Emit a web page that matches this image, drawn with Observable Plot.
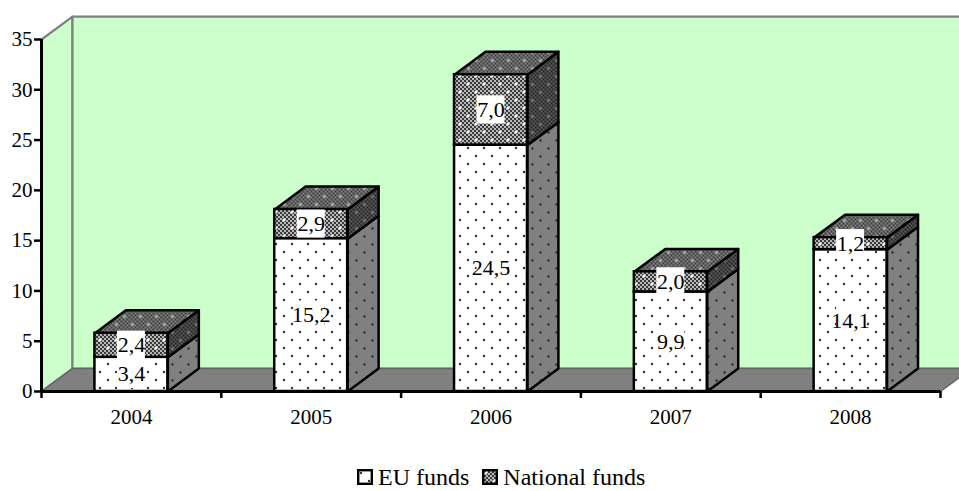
<!DOCTYPE html>
<html>
<head>
<meta charset="utf-8">
<script src="https://cdn.jsdelivr.net/npm/d3@7"></script>
<script src="https://cdn.jsdelivr.net/npm/@observablehq/plot@0.6"></script>
<style>
html,body{margin:0;padding:0;background:#fff;overflow:hidden;width:959px;height:491px}
#legend{position:absolute;left:357px;top:469px;height:16px;display:flex;align-items:center;font-family:"Liberation Serif",serif;font-size:24px;color:#000;line-height:16px;white-space:nowrap}
#legend svg{display:block;margin-right:5px}
#legend span{display:block;margin-right:13px;height:16px;line-height:16px}
</style>
</head>
<body>
<div id="chart"></div>
<div id="legend"></div>
<script>
const years = ["2004", "2005", "2006", "2007", "2008"];
const euFunds = [3.4, 15.2, 24.5, 9.9, 14.1];
const nationalFunds = [2.4, 2.9, 7.0, 2.0, 1.2];
const yTicks = [0, 5, 10, 15, 20, 25, 30, 35];
const seriesNames = ["EU funds", "National funds"];

const NS = "http://www.w3.org/2000/svg";
const depthX = 31 / 180, depthY = 2.28, barW = 73 / 180;
const boxX = 14 / 180, boxY = 1.4;
const xEnd = years.length;
const xRight = xEnd + depthX + 0.2;
const fmt = v => v.toFixed(1).replace(".", ",");

function el(name, attrs, parent) {
  const e = document.createElementNS(NS, name);
  for (const k in attrs) e.setAttribute(k, attrs[k]);
  if (parent) parent.appendChild(e);
  return e;
}
function patterns() {
  const defs = el("defs", {});
  const dotted = (id, bg, col) => {
    const p = el("pattern", {id, width: 16, height: 16, patternUnits: "userSpaceOnUse"}, defs);
    el("rect", {width: 16, height: 16, fill: bg}, p);
    [[4, 4], [12, 12]].forEach(([x, y]) => el("circle", {cx: x, cy: y, r: 1.2, fill: col}, p));
  };
  const checked = (id, a, b, star) => {
    const p = el("pattern", {id, width: 16, height: 16, patternUnits: "userSpaceOnUse"}, defs);
    el("rect", {width: 16, height: 16, fill: a}, p);
    for (let i = 0; i < 8; i++) for (let j = 0; j < 8; j++)
      if ((i + j) % 2) el("rect", {x: i * 2, y: j * 2, width: 2, height: 2, fill: b}, p);
    [[4, 4], [12, 12]].forEach(([x, y]) => {
      el("rect", {x: x - 1.5, y: y - 0.75, width: 3, height: 1.5, fill: star}, p);
      el("rect", {x: x - 0.75, y: y - 1.5, width: 1.5, height: 3, fill: star}, p);
    });
  };
  dotted("euFront", "#ffffff", "#333333");
  dotted("euSide", "#808080", "#222222");
  checked("natFront", "#3a3a3a", "#b8b8b8", "#ffffff");
  checked("natTop", "#3c3c3c", "#858585", "#c0c0c0");
  checked("natSide", "#222222", "#5e5e5e", "#808080");
  return defs;
}

const rows = years.map((year, i) => ({
  year, i, eu: euFunds[i], nat: nationalFunds[i],
  x1: i + 0.5 - barW / 2, x2: i + 0.5 + barW / 2, top: euFunds[i] + nationalFunds[i]
}));
function poly(id, pts) { return pts.map(([x, y]) => ({id, x, y})); }
const euSides = rows.flatMap(r => poly("e" + r.i, [[r.x2, 0], [r.x2 + depthX, depthY], [r.x2 + depthX, r.eu + depthY], [r.x2, r.eu]]));
const natSides = rows.flatMap(r => poly("n" + r.i, [[r.x2, r.eu], [r.x2 + depthX, r.eu + depthY], [r.x2 + depthX, r.top + depthY], [r.x2, r.top]]));
const natTops = rows.flatMap(r => poly("t" + r.i, [[r.x1, r.top], [r.x1 + depthX, r.top + depthY], [r.x2 + depthX, r.top + depthY], [r.x2, r.top]]));
const sideWall = poly("w", [[0, 0], [depthX, depthY], [depthX, 35 + depthY], [0, 35]]);
const backWall = poly("b", [[depthX, depthY], [xRight, depthY], [xRight, 35 + depthY], [depthX, 35 + depthY]]);
const floor = poly("f", [[0, 0], [depthX, depthY], [xEnd + depthX, depthY], [xEnd, 0]]);
const closed = {x: "x", y: "y", z: "id", curve: "linear-closed"};

const labels = rows.flatMap(r => [
  {i: r.i, v: r.eu, c: r.eu / 2},
  {i: r.i, v: r.nat, c: r.eu + r.nat / 2}
]);

const plot = Plot.plot({
  width: 959, height: 465,
  marginLeft: 41, marginRight: 19, marginTop: 39, marginBottom: 74,
  x: {domain: [0, xEnd], axis: null},
  y: {domain: [0, 35], axis: null},
  style: {fontFamily: '"Liberation Serif", serif', background: "transparent", overflow: "hidden"},
  marks: [
    patterns,
    Plot.line(sideWall, {...closed, fill: "#ccffcc", stroke: "#808080", strokeWidth: 2.2}),
    Plot.line(backWall, {...closed, fill: "#ccffcc", stroke: "#808080", strokeWidth: 2.2}),
    Plot.line(floor, {...closed, fill: "#808080", stroke: "#666666", strokeWidth: 1.5}),
    Plot.line(euSides, {...closed, fill: "url(#euSide)", stroke: "#000", strokeWidth: 2.5}),
    Plot.line(natSides, {...closed, fill: "url(#natSide)", stroke: "#000", strokeWidth: 2.5}),
    Plot.line(natTops, {...closed, fill: "url(#natTop)", stroke: "#000", strokeWidth: 2.5}),
    Plot.rect(rows, {x1: "x1", x2: "x2", y1: 0, y2: "eu", fill: "url(#euFront)", stroke: "#000", strokeWidth: 2.5}),
    Plot.rect(rows, {x1: "x1", x2: "x2", y1: "eu", y2: "top", fill: "url(#natFront)", stroke: "#000", strokeWidth: 2.5}),
    Plot.rect(labels, {
      x1: d => d.i + 0.5 - boxX, x2: d => d.i + 0.5 + boxX,
      y1: d => d.c - boxY, y2: d => d.c + boxY, fill: "#fff"
    }),
    Plot.text(labels, {x: d => d.i + 0.5, y: "c", text: d => fmt(d.v), fontSize: 22, fill: "#000"}),
    Plot.axisY({ticks: yTicks, tickSize: 7, tickPadding: 2, fontSize: 21, label: null, tickFormat: d => String(d), strokeWidth: 2.5, color: "#000"}),
    Plot.ruleX([0], {y1: 0, y2: 35, stroke: "#000", strokeWidth: 3}),
    Plot.ruleY([0], {x1: 0, x2: xEnd, stroke: "#000", strokeWidth: 3}),
    Plot.axisX({ticks: d3.range(xEnd + 1), tickSize: 7, tickFormat: () => "", label: null, strokeWidth: 2.5, color: "#000"}),
    Plot.text(rows, {x: d => d.i + 0.5, y: 0, dy: 26, text: "year", fontSize: 21, fill: "#000"})
  ]
});
document.getElementById("chart").appendChild(plot);

const legend = document.getElementById("legend");
["euFront", "natFront"].forEach((id, k) => {
  const s = el("svg", {width: 16, height: 16}, legend);
  el("rect", {x: 1.2, y: 1.2, width: 13.6, height: 13.6, fill: `url(#${id})`, stroke: "#000", "stroke-width": 2.4}, s);
  const t = document.createElement("span");
  t.textContent = seriesNames[k];
  legend.appendChild(t);
});
</script>
</body>
</html>
